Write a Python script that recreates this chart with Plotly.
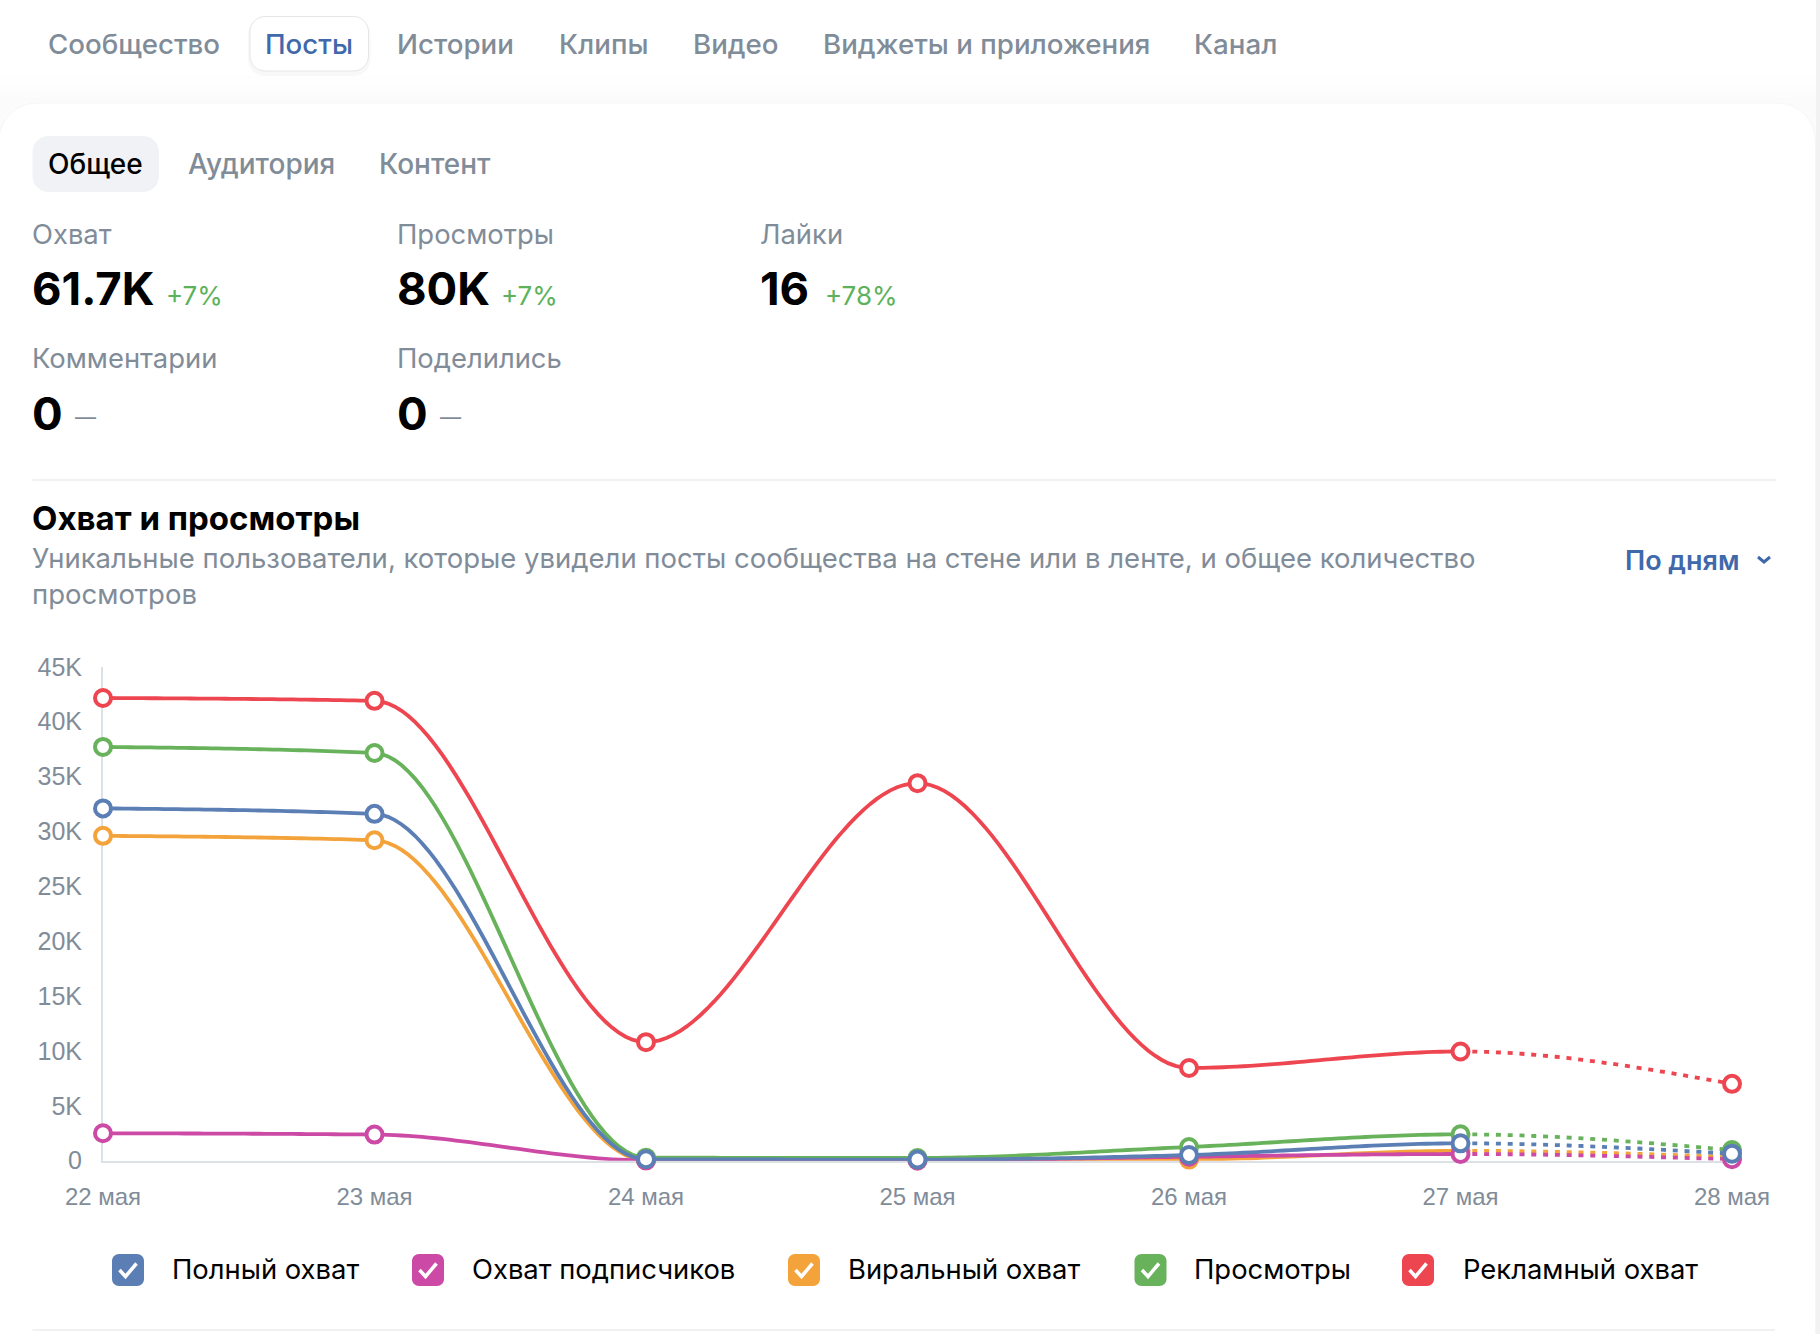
import plotly.graph_objects as go

# ---- chart data (thousands of users per day) ----
days = ["22 мая", "23 мая", "24 мая", "25 мая", "26 мая", "27 мая", "28 мая"]
full_reach = [32.1, 31.6, 0.13, 0.1, 0.52, 1.58, 0.64]
subscriber_reach = [2.5, 2.38, 0.03, 0.02, 0.36, 0.61, 0.13]
viral_reach = [29.6, 29.2, 0.03, 0.02, 0.1, 0.9, 0.35]
views = [37.7, 37.15, 0.28, 0.25, 1.25, 2.4, 0.97]
ad_reach = [42.16, 41.9, 10.8, 34.4, 8.45, 9.95, 7.0]
y_ticks = [0, 5, 10, 15, 20, 25, 30, 35, 40, 45]
y_tick_labels = ["0", "5K", "10K", "15K", "20K", "25K", "30K", "35K", "40K", "45K"]

series_names = ["Полный охват", "Охват подписчиков", "Виральный охват", "Просмотры", "Рекламный охват"]
series_values = [full_reach, subscriber_reach, viral_reach, views, ad_reach]
series_colors = ["#5b7fb5", "#cc4aa5", "#f4a33b", "#68b25c", "#ee4650"]

# ---- page text ----
nav_tabs = ["Сообщество", "Посты", "Истории", "Клипы", "Видео", "Виджеты и приложения", "Канал"]
nav_x = [48, 264.5, 396.5, 559, 692.5, 822.5, 1194]
sub_tabs = ["Общее", "Аудитория", "Контент"]
sub_x = [48, 187.5, 378.5]

W, H = 1820, 1334
GRAY = "#818c99"
BLUE = "#3f69ab"
GREEN = "#5cb25a"
UI = "Inter, sans-serif"
CHART = "Liberation Sans, Arial, sans-serif"


def px(x):
    return x / W


def py(y):
    return 1 - y / H


def monotone_curve(values, per_segment=40):
    """Monotone cubic path through the daily values (plotly has no monotone line shape)."""
    n = len(values)
    sec = [values[i + 1] - values[i] for i in range(n - 1)]
    sign = lambda v: (v > 0) - (v < 0)
    tan = [0.0] * n
    for i in range(1, n - 1):
        p = (sec[i - 1] + sec[i]) / 2
        tan[i] = (sign(sec[i - 1]) + sign(sec[i])) * min(abs(sec[i - 1]), abs(sec[i]), 0.5 * abs(p))
    tan[0] = (3 * sec[0] - tan[1]) / 2
    tan[-1] = (3 * sec[-1] - tan[-2]) / 2
    xs, ys = [], []
    for i in range(n - 1):
        for k in range(per_segment + 1):
            t = k / per_segment
            h00 = (1 + 2 * t) * (1 - t) ** 2
            h10 = t * (1 - t) ** 2
            h01 = t * t * (3 - 2 * t)
            h11 = t * t * (t - 1)
            xs.append(i + t)
            ys.append(h00 * values[i] + h10 * tan[i] + h01 * values[i + 1] + h11 * tan[i + 1])
    return xs, ys


def rounded(x0, y0, x1, y1, r):
    c = 0.45 * r
    return (f"M{px(x0 + r)},{py(y0)} L{px(x1 - r)},{py(y0)} "
            f"C{px(x1 - c)},{py(y0)} {px(x1)},{py(y0 + c)} {px(x1)},{py(y0 + r)} "
            f"L{px(x1)},{py(y1 - r)} "
            f"C{px(x1)},{py(y1 - c)} {px(x1 - c)},{py(y1)} {px(x1 - r)},{py(y1)} "
            f"L{px(x0 + r)},{py(y1)} "
            f"C{px(x0 + c)},{py(y1)} {px(x0)},{py(y1 - c)} {px(x0)},{py(y1 - r)} "
            f"L{px(x0)},{py(y0 + r)} "
            f"C{px(x0)},{py(y0 + c)} {px(x0 + c)},{py(y0)} {px(x0 + r)},{py(y0)} Z")


shapes, annotations = [], []


def box(x0, y0, x1, y1, r, fill, line=None, layer="below"):
    shapes.append(dict(type="path", path=rounded(x0, y0, x1, y1, r), xref="paper", yref="paper",
                       fillcolor=fill, line=dict(color=line or fill, width=1 if line else 0), layer=layer))


def hline(x0, x1, y, color="#e3e4e8"):
    shapes.append(dict(type="line", xref="paper", yref="paper", x0=px(x0), x1=px(x1), y0=py(y), y1=py(y),
                       line=dict(color=color, width=1.2), layer="below"))


def label(x, y, text, size, color, weight=400, font=UI, anchor="left"):
    annotations.append(dict(x=px(x), y=py(y), xref="paper", yref="paper", text=text, showarrow=False,
                            xanchor=anchor, yanchor="middle", xshift=0, borderpad=0, borderwidth=0,
                            font=dict(family=font, size=size, color=color, weight=weight)))


# page background behind the rounded card, with a soft fade above it
for i, tone in enumerate(["#fefefe", "#fdfdfd", "#fcfcfc", "#fbfbfb"]):
    shapes.append(dict(type="rect", xref="paper", yref="paper", x0=0, x1=1,
                       y0=py(104 + 30), y1=py(76 + i * 7), fillcolor=tone, line=dict(width=0), layer="below"))
box(-1, 103, 1815.5, 1400, 38, "#ffffff", line="#f6f6f6")
shapes.append(dict(type="rect", xref="paper", yref="paper", x0=px(1816), x1=1, y0=0, y1=1,
                   fillcolor="#f2f2f2", line=dict(width=0), layer="below"))

# community section tabs
box(248, 18, 370.5, 76, 17, "#f8f8f9")
box(250, 16.5, 368.5, 71, 15, "#ffffff", line="#e4e6ea")
for name, x in zip(nav_tabs, nav_x):
    active = name == "Посты"
    label(x, 44, name, 27.7, BLUE if active else GRAY, 500)

# sub tabs
box(32.5, 136, 159, 192, 16, "#f0f2f5")
for name, x in zip(sub_tabs, sub_x):
    label(x, 163.5, name, 28, "#000000" if name == "Общее" else GRAY, 500)

# summary figures
label(32, 234, "Охват", 27.4, GRAY)
label(32, 289, "61.7K", 45.5, "#000000", 700)
label(165.5, 295, "+7%", 26, GREEN)
label(396.5, 234, "Просмотры", 27.4, GRAY)
label(396.5, 289, "80K", 45.5, "#000000", 700)
label(500.5, 295, "+7%", 26, GREEN)
label(759.5, 234, "Лайки", 27.4, GRAY)
label(759.5, 289, "16", 45.5, "#000000", 700)
label(824.5, 295, "+78%", 26, GREEN)
label(32, 358, "Комментарии", 27.4, GRAY)
label(32, 413, "0", 45.5, "#000000", 700)
label(75, 417.5, "—", 21, GRAY)
label(396.5, 358, "Поделились", 27.4, GRAY)
label(396.5, 413, "0", 45.5, "#000000", 700)
label(440, 417.5, "—", 21, GRAY)
hline(32.5, 1776, 480)

# chart heading
label(32, 517.5, "Охват и просмотры", 33, "#000000", 700)
label(32, 558, "Уникальные пользователи, которые увидели посты сообщества на стене или в ленте, и общее количество",
      27.5, GRAY)
label(32, 593.5, "просмотров", 27.5, GRAY)
label(1625, 560.5, "По дням", 27, BLUE, 600)
shapes.append(dict(type="path", xref="paper", yref="paper", line=dict(color=BLUE, width=3), layer="above",
                   path=f"M{px(1758)},{py(557)} L{px(1764)},{py(562)} L{px(1770)},{py(557)}"))

# series legend drawn as checkboxes
box_x = [112, 412, 788, 1134.5, 1402]
text_x = [172, 472, 848, 1193.5, 1462.5]
for name, color, bx, tx in zip(series_names, series_colors, box_x, text_x):
    box(bx, 1254, bx + 32, 1286, 7, color)
    shapes.append(dict(type="path", xref="paper", yref="paper", line=dict(color="#ffffff", width=3.5),
                       layer="above",
                       path=f"M{px(bx + 7.5)},{py(1270)} L{px(bx + 13.5)},{py(1276.5)} L{px(bx + 24.5)},{py(1263.5)}"))
    label(tx, 1269, name, 27.4, "#000000")
hline(32.5, 1775, 1330)

fig = go.Figure()

# last day is incomplete, so its segment is dotted; blue ends up on top
last = len(days) - 2
for name, values, color in reversed(list(zip(series_names, series_values, series_colors))):
    xs, ys = monotone_curve(values)
    solid = [i for i, x in enumerate(xs) if x <= last]
    dotted = [i for i, x in enumerate(xs) if x >= last]
    fig.add_trace(go.Scatter(x=[xs[i] for i in solid], y=[ys[i] for i in solid], mode="lines", name=name,
                             line=dict(color=color, width=3.8, simplify=False), cliponaxis=False,
                             hoverinfo="skip"))
    fig.add_trace(go.Scatter(x=[xs[i] for i in dotted], y=[ys[i] for i in dotted], mode="lines", name=name,
                             line=dict(color=color, width=3.8, dash="5px,6.8px", simplify=False),
                             cliponaxis=False, hoverinfo="skip"))
    fig.add_trace(go.Scatter(x=list(range(len(days))), y=values, mode="markers", name=name,
                             marker=dict(size=16, color="#ffffff", line=dict(color=color, width=4)),
                             cliponaxis=False))

fig.update_layout(
    width=W, height=H, margin=dict(l=0, r=0, t=0, b=0), showlegend=False,
    paper_bgcolor="#ffffff", plot_bgcolor="rgba(0,0,0,0)",
    shapes=shapes, annotations=annotations,
    xaxis=dict(domain=[px(103), px(1732)], range=[0, len(days) - 1], tickvals=list(range(len(days))),
               ticktext=days, showgrid=False, zeroline=False, showline=True, linecolor="#dce1e6", linewidth=2,
               layer="below traces", ticks="", automargin=False, ticklabelstandoff=13,
               tickfont=dict(family=CHART, size=24, color=GRAY)),
    yaxis=dict(domain=[py(1160.7), py(666.8)], range=[0, 45], tickvals=y_ticks, ticktext=y_tick_labels,
               showgrid=False, zeroline=False, showline=True, linecolor="#dce1e6", linewidth=2,
               layer="below traces", ticks="", automargin=False, ticklabelstandoff=14,
               tickfont=dict(family=CHART, size=25, color=GRAY)),
)

fig.write_html("out.html", config=dict(displayModeBar=False))
